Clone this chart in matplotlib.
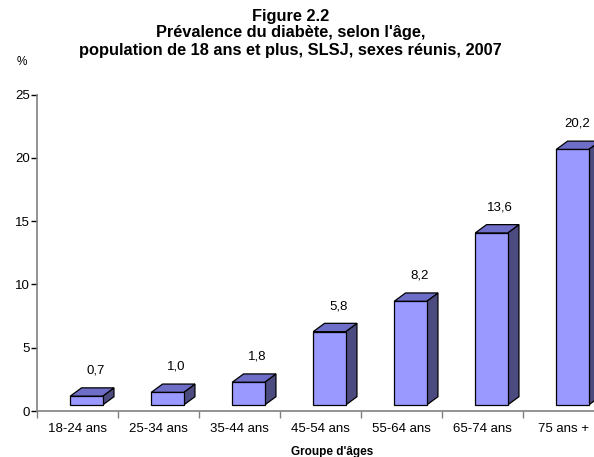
import matplotlib
matplotlib.use('Agg')
import matplotlib.pyplot as plt
from matplotlib.patches import Polygon

plt.rcParams['font.family'] = ['Liberation Sans', 'DejaVu Sans']

# Données
groupes = ['18-24 ans', '25-34 ans', '35-44 ans', '45-54 ans',
           '55-64 ans', '65-74 ans', '75 ans +']
prevalence = [0.7, 1.0, 1.8, 5.8, 8.2, 13.6, 20.2]
etiquettes = ['0,7', '1,0', '1,8', '5,8', '8,2', '13,6', '20,2']

W, H = 594, 457
fig = plt.figure(figsize=(W / 100, H / 100), dpi=100)

# axe: x de 37 px a 604 px (coupe par le bord), y: 0 -> 411 px, 25 -> 94.7 px
ax = fig.add_axes([37 / W, (H - 411) / H, (604 - 37) / W, (411 - 94.7) / H])
ax.set_xlim(0, 7)
ax.set_ylim(0, 25)

# geometrie des barres 3D
gauche = 0.41
largeur = 0.40
dx = 0.14
dy = 0.66
plancher = 0.47

face = '#9999FF'
dessus = '#6E6EC8'
cote = '#4B4B80'

for i, v in enumerate(prevalence):
    x0 = i + gauche
    x1 = x0 + largeur
    y0 = plancher
    y1 = plancher + v
    avant = Polygon([(x0, y0), (x1, y0), (x1, y1), (x0, y1)],
                    closed=True, fc=face, ec='black', lw=0.9, clip_on=False)
    haut = Polygon([(x0, y1), (x1, y1), (x1 + dx, y1 + dy), (x0 + dx, y1 + dy)],
                   closed=True, fc=dessus, ec='black', lw=0.9, clip_on=False)
    droite = Polygon([(x1, y0), (x1 + dx, y0 + dy), (x1 + dx, y1 + dy), (x1, y1)],
                     closed=True, fc=cote, ec='black', lw=0.9, clip_on=False)
    ax.add_patch(droite)
    ax.add_patch(haut)
    ax.add_patch(avant)
    # etiquette au-dessus de la barre, gardee dans l'image
    xt = min(x0 + largeur / 2 + 0.11, 6.67)
    ax.text(xt, y1 + 1.55, etiquettes[i],
            ha='center', va='bottom', fontsize=9.5)

for s in ['top', 'right']:
    ax.spines[s].set_visible(False)
for s in ['left', 'bottom']:
    ax.spines[s].set_color('#808080')
    ax.spines[s].set_linewidth(1.2)

ax.set_yticks(range(0, 26, 5))
ax.tick_params(axis='y', direction='out', length=4, width=1, color='black',
               labelsize=9.5, pad=1)
ax.set_xticks([i + 0.5 for i in range(7)])
ax.set_xticklabels(groupes)
ax.set_xticks(range(0, 8), minor=True)
ax.tick_params(axis='x', which='major', length=0, labelsize=9.5, pad=9)
ax.tick_params(axis='x', which='minor', direction='out', length=5, width=1,
               color='#808080')

titre = ['Figure 2.2',
         "Prévalence du diabète, selon l'âge,",
         'population de 18 ans et plus, SLSJ, sexes réunis, 2007']
for k, ligne in enumerate(titre):
    fig.text(290.5 / W, 1 - (16 + 17 * k) / H, ligne, ha='center', va='center',
             fontsize=11.8, fontweight='bold')
fig.text(22 / W, 1 - 62 / H, '%', ha='center', va='center', fontsize=8.5)
fig.text(332 / W, 1 - 452 / H, "Groupe d'âges", ha='center', va='center',
         fontsize=8.5, fontweight='bold')

fig.savefig('out.png', dpi=100)
